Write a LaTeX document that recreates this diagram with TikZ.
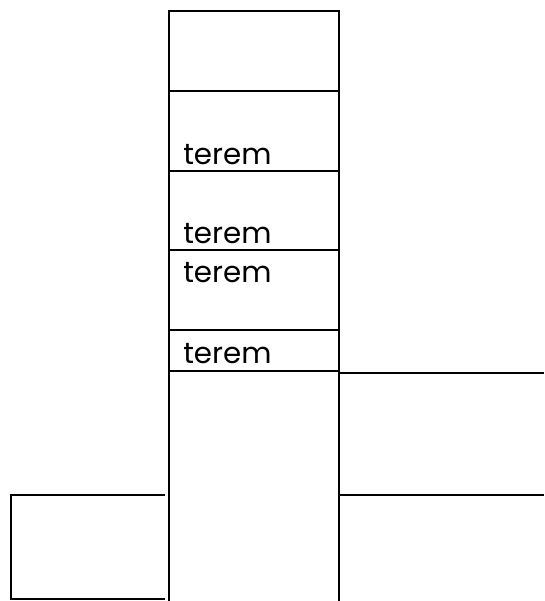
\documentclass[tikz,border=0pt]{standalone}
\usepackage{fontspec}
\setmainfont{Poppins}
\begin{document}
\begin{tikzpicture}[x=0.75pt,y=-0.75pt,
  col/.style={line width=1.6pt},
  thin/.style={line width=1.3pt},
  lbl/.style={anchor=base west,inner sep=0pt,font=\fontsize{22pt}{26pt}\selectfont}]
\useasboundingbox (0,0) rectangle (544,601);
% column corners
\coordinate (tl) at (169,11);
\coordinate (tr) at (339,11);
\coordinate (bl) at (169,601);
\coordinate (br) at (339,601);
\draw[col] (bl) -- (tl) -- (tr) -- (br);
\foreach \y/\n in {91/a,171/b,250/c,330/d,371/e}{
  \coordinate (l\n) at (169,\y);
  \coordinate (r\n) at (339,\y);
  \draw[col] (l\n) -- (r\n);
}
% text
\node[lbl] (t1) at (183,164) {terem};
\node[lbl] (t2) at (183,243) {terem};
\node[lbl] (t3) at (183,282) {terem};
\node[lbl] (t4) at (183,363) {terem};
% right lines
\coordinate (ra1) at (339,373);
\coordinate (ra2) at (544,373);
\coordinate (rb1) at (339,495);
\coordinate (rb2) at (544,495);
\draw[thin] (ra1) -- (ra2);
\draw[thin] (rb1) -- (rb2);
% left box
\coordinate (la) at (165,495);
\coordinate (lb) at (11,495);
\coordinate (lc) at (11,599);
\coordinate (ld) at (165,599);
\draw[thin] (la) -- (lb) -- (lc) -- (ld);
\end{tikzpicture}
\end{document}
